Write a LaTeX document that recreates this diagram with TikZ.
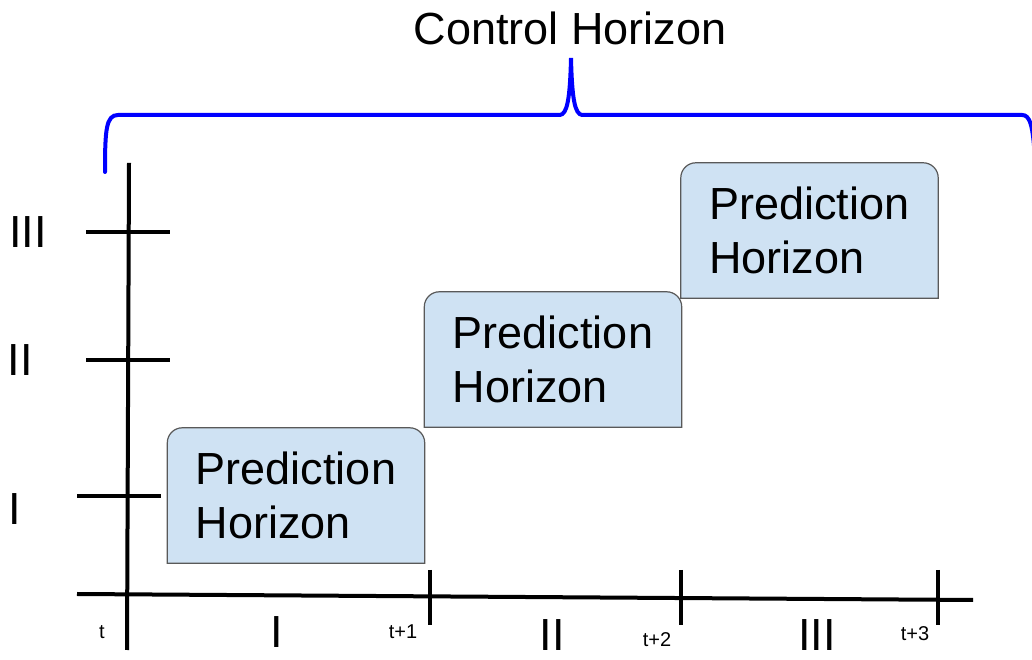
\documentclass[tikz,border=0pt]{standalone}
\usepackage{fontspec}
\setmainfont{Liberation Sans}
\usetikzlibrary{backgrounds}
\definecolor{phfill}{HTML}{CFE2F3}
\definecolor{phline}{HTML}{595959}
\begin{document}
\begin{tikzpicture}[x=1pt, y=1pt,
  ax/.style={line width=4pt},
  ph/.style={align=left, minimum width=257pt, minimum height=135pt, inner sep=0pt,
    font=\fontsize{45}{54}\selectfont},
  phbox/.style={draw=phline, line width=1.2pt, fill=phfill},
  big/.style={anchor=base, inner sep=0pt, font=\fontsize{45}{54}\selectfont},
  small/.style={anchor=base, inner sep=0pt, font=\fontsize{20}{24}\selectfont},
  brace/.style={draw=blue, line width=4pt, line cap=round}
]
\useasboundingbox (0,0) rectangle (1032,660);

% axes
\coordinate (yb) at (127,10);
\coordinate (yt) at (129,497);
\coordinate (xl) at (77,66);
\coordinate (xr) at (973,60);
\draw[ax] (yb) -- (yt);
\draw[ax] (xl) -- (xr);
\foreach \x in {430,681,938}
  \draw[ax] (\x,90) -- (\x,35);
\draw[ax] (86,428) -- (170,428);
\draw[ax] (86,300) -- (170,300);
\draw[ax] (77,164) -- (161,164);

% prediction horizons
\node[ph] (p1) at (296,164.5) {Prediction\\Horizon};
\node[ph] (p2) at (553,300.5) {Prediction\\Horizon};
\node[ph] (p3) at (809.5,429.5) {Prediction\\Horizon};
\begin{pgfonlayer}{background}
\foreach \b in {p1,p2,p3}
  \draw[phbox] (\b.south west) -- ([yshift=-15pt]\b.north west)
    arc[start angle=180, end angle=90, radius=15pt] -- ([xshift=-15pt]\b.north east)
    arc[start angle=90, end angle=0, radius=15pt] -- (\b.south east) -- cycle;
\end{pgfonlayer}

% labels
\node[big] (yI) at (15,135) {I};
\node[big] (yII) at (20,284) {II};
\node[big] (yIII) at (28,412) {III};
\node[big] (xI) at (277,12) {I};
\node[big] (xII) at (552,9) {II};
\node[big] (xIII) at (817,9) {III};
\node[small] (t0) at (102,21) {t};
\node[small] (t1) at (403,21) {t+1};
\node[small] (t2) at (657,13) {t+2};
\node[small] (t3) at (915,19) {t+3};

% control horizon brace
\draw[brace] (105,488) .. controls (105,530) and (106,545) .. (118,545)
  -- (560,545) .. controls (567,546) and (570,560) .. (571,602)
  .. controls (572,560) and (575,546) .. (582,545)
  -- (1022,545) .. controls (1030,545) and (1033,535) .. (1035,500);
\node[big] (ch) at (570,615) {Control Horizon};
\end{tikzpicture}
\end{document}
